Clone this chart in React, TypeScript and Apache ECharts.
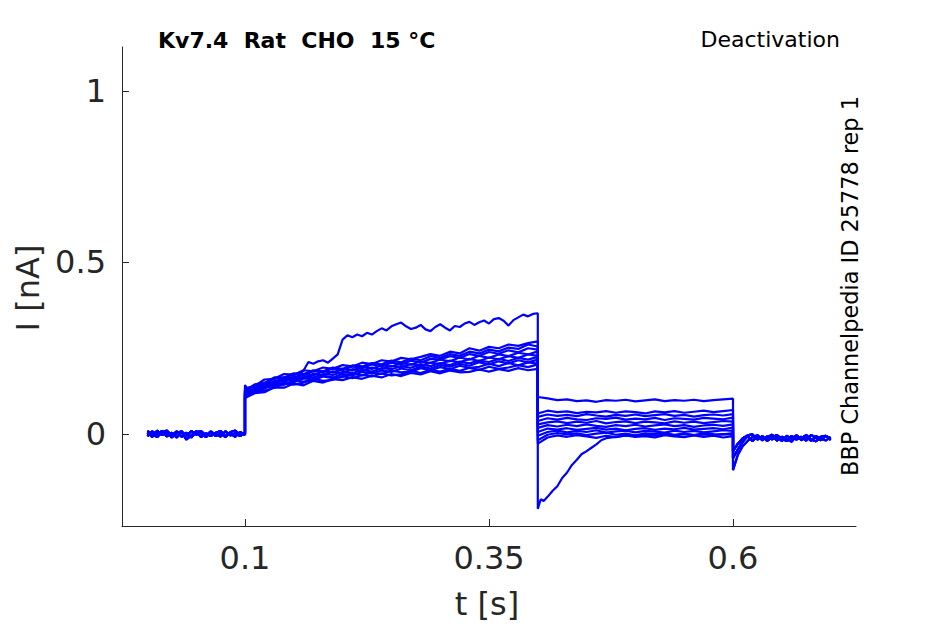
import React, { useEffect, useRef } from "react";
import * as echarts from "echarts";

// ---- time bases (s) ----
const T_PRE = [0, 0.005, 0.01, 0.015, 0.02, 0.025, 0.03, 0.035, 0.04, 0.045, 0.05, 0.055, 0.06, 0.065, 0.07, 0.075, 0.08, 0.085, 0.09, 0.095, 0.1];
const T_ACT = [0.1, 0.11, 0.12, 0.13, 0.14, 0.15, 0.16, 0.17, 0.18, 0.19, 0.2, 0.21, 0.22, 0.23, 0.24, 0.25, 0.26, 0.27, 0.28, 0.29, 0.3, 0.31, 0.32, 0.33, 0.34, 0.35, 0.36, 0.37, 0.38, 0.39, 0.4];
const T_ACT_FINE = [0.1, 0.105, 0.11, 0.115, 0.12, 0.125, 0.13, 0.135, 0.14, 0.145, 0.15, 0.155, 0.16, 0.165, 0.17, 0.175, 0.18, 0.185, 0.19, 0.195, 0.2, 0.205, 0.21, 0.215, 0.22, 0.225, 0.23, 0.235, 0.24, 0.245, 0.25, 0.255, 0.26, 0.265, 0.27, 0.275, 0.28, 0.285, 0.29, 0.295, 0.3, 0.305, 0.31, 0.315, 0.32, 0.325, 0.33, 0.335, 0.34, 0.345, 0.35, 0.355, 0.36, 0.365, 0.37, 0.375, 0.38, 0.385, 0.39, 0.395, 0.4];
const T_TAIL = [0.4, 0.41, 0.42, 0.43, 0.44, 0.45, 0.46, 0.47, 0.48, 0.49, 0.5, 0.51, 0.52, 0.53, 0.54, 0.55, 0.56, 0.57, 0.58, 0.59, 0.6];
const T_TAIL_UNDER = [0.4, 0.403, 0.406, 0.41, 0.415, 0.42, 0.425, 0.43, 0.435, 0.44, 0.445, 0.45, 0.455, 0.46, 0.465, 0.47, 0.48, 0.49, 0.5, 0.51, 0.52, 0.53, 0.54, 0.55, 0.56, 0.57, 0.58, 0.59, 0.6];
const T_POST = [0.6, 0.605, 0.61, 0.615, 0.62, 0.625, 0.63, 0.635, 0.64, 0.645, 0.65, 0.655, 0.66, 0.665, 0.67, 0.675, 0.68, 0.685, 0.69, 0.695, 0.7];

// ---- baseline before the step (nA) ----
const PRE_1 = [0.004, -0.008, 0.01, -0.003, 0.006, -0.01, 0.002, 0.008, -0.006, 0.009, -0.002, 0.004, -0.009, 0.006, 0.0, -0.007, 0.008, -0.004, 0.002, -0.006, 0.004];
const PRE_2 = [-0.006, 0.008, -0.002, 0.009, -0.007, 0.004, -0.01, 0.006, -0.016, -0.004, 0.008, -0.009, 0.002, -0.006, 0.004, 0.009, -0.006, 0.002, -0.008, 0.006, -0.002];
const PRE_3 = [0.009, 0.0, -0.009, 0.006, 0.01, -0.004, 0.008, -0.008, 0.004, -0.01, 0.006, 0.009, -0.004, 0.008, -0.006, 0.002, -0.009, 0.006, 0.01, -0.002, 0.0];

// ---- activating currents during the step (nA) ----
const ACT_TOP = [0.143, 0.118, 0.125, 0.122, 0.135, 0.138, 0.142, 0.146, 0.15, 0.158, 0.156, 0.17, 0.185, 0.21, 0.205, 0.212, 0.215, 0.208, 0.22, 0.232, 0.275, 0.288, 0.282, 0.29, 0.285, 0.295, 0.29, 0.3, 0.308, 0.302, 0.314, 0.32, 0.325, 0.314, 0.306, 0.31, 0.318, 0.305, 0.3, 0.312, 0.32, 0.31, 0.302, 0.315, 0.312, 0.322, 0.327, 0.318, 0.326, 0.331, 0.322, 0.335, 0.338, 0.33, 0.316, 0.332, 0.34, 0.348, 0.343, 0.35, 0.352];
const ACT_1 = [0.105, 0.119, 0.122, 0.136, 0.135, 0.147, 0.142, 0.155, 0.15, 0.16, 0.157, 0.166, 0.161, 0.17, 0.165, 0.175, 0.169, 0.178, 0.174, 0.183, 0.177, 0.185, 0.18, 0.181, 0.188, 0.182, 0.189, 0.184, 0.192, 0.186, 0.19];
const ACT_2 = [0.108, 0.124, 0.127, 0.135, 0.148, 0.144, 0.15, 0.161, 0.155, 0.158, 0.169, 0.163, 0.172, 0.168, 0.177, 0.171, 0.174, 0.184, 0.178, 0.187, 0.182, 0.19, 0.184, 0.193, 0.187, 0.196, 0.19, 0.194, 0.201, 0.195, 0.203];
const ACT_3 = [0.114, 0.12, 0.137, 0.139, 0.144, 0.156, 0.153, 0.157, 0.168, 0.163, 0.166, 0.177, 0.171, 0.18, 0.175, 0.185, 0.18, 0.182, 0.192, 0.186, 0.195, 0.189, 0.199, 0.193, 0.196, 0.205, 0.198, 0.207, 0.2, 0.209, 0.205];
const ACT_4 = [0.117, 0.13, 0.133, 0.147, 0.145, 0.151, 0.162, 0.159, 0.17, 0.165, 0.175, 0.171, 0.181, 0.176, 0.185, 0.181, 0.191, 0.186, 0.197, 0.191, 0.201, 0.196, 0.205, 0.199, 0.209, 0.203, 0.212, 0.206, 0.215, 0.209, 0.217];
const ACT_5 = [0.121, 0.127, 0.144, 0.145, 0.158, 0.156, 0.168, 0.165, 0.175, 0.172, 0.181, 0.177, 0.187, 0.182, 0.192, 0.189, 0.198, 0.193, 0.203, 0.198, 0.207, 0.201, 0.211, 0.206, 0.214, 0.21, 0.219, 0.213, 0.222, 0.217, 0.225];
const ACT_6 = [0.118, 0.136, 0.139, 0.155, 0.153, 0.168, 0.163, 0.176, 0.171, 0.183, 0.178, 0.189, 0.184, 0.194, 0.189, 0.199, 0.195, 0.204, 0.199, 0.208, 0.204, 0.214, 0.209, 0.219, 0.213, 0.223, 0.218, 0.227, 0.222, 0.232, 0.228];
const ACT_7 = [0.124, 0.131, 0.149, 0.15, 0.165, 0.162, 0.175, 0.171, 0.183, 0.179, 0.19, 0.185, 0.196, 0.19, 0.201, 0.196, 0.207, 0.202, 0.212, 0.207, 0.217, 0.212, 0.223, 0.217, 0.228, 0.222, 0.232, 0.227, 0.237, 0.232, 0.241];
const ACT_8 = [0.127, 0.142, 0.145, 0.162, 0.16, 0.174, 0.171, 0.183, 0.18, 0.191, 0.186, 0.197, 0.192, 0.203, 0.197, 0.208, 0.203, 0.214, 0.208, 0.219, 0.217, 0.227, 0.222, 0.233, 0.228, 0.239, 0.234, 0.244, 0.238, 0.25, 0.246];
const ACT_9 = [0.126, 0.145, 0.149, 0.165, 0.165, 0.177, 0.175, 0.186, 0.183, 0.194, 0.19, 0.2, 0.197, 0.207, 0.203, 0.214, 0.209, 0.22, 0.215, 0.227, 0.222, 0.233, 0.228, 0.24, 0.235, 0.246, 0.241, 0.252, 0.248, 0.261, 0.255];
const ACT_10 = [0.133, 0.14, 0.159, 0.161, 0.175, 0.173, 0.186, 0.183, 0.194, 0.19, 0.201, 0.197, 0.208, 0.204, 0.215, 0.211, 0.222, 0.218, 0.225, 0.233, 0.228, 0.24, 0.235, 0.25, 0.243, 0.254, 0.25, 0.261, 0.257, 0.265, 0.27];

// ---- tail currents after the step (nA) ----
const TAIL_TOP = [0.108, 0.104, 0.099, 0.101, 0.096, 0.098, 0.094, 0.099, 0.097, 0.1, 0.095, 0.098, 0.101, 0.096, 0.099, 0.097, 0.1, 0.096, 0.099, 0.101, 0.103];
const TAIL_10 = [0.06, 0.068, 0.064, 0.066, 0.061, 0.065, 0.063, 0.067, 0.062, 0.066, 0.064, 0.06, 0.066, 0.063, 0.067, 0.062, 0.065, 0.068, 0.064, 0.067, 0.07];
const TAIL_9 = [0.05, 0.057, 0.053, 0.056, 0.052, 0.058, 0.054, 0.051, 0.056, 0.053, 0.057, 0.052, 0.055, 0.058, 0.053, 0.056, 0.051, 0.055, 0.057, 0.054, 0.058];
const TAIL_8 = [0.038, 0.046, 0.042, 0.047, 0.043, 0.041, 0.046, 0.044, 0.048, 0.042, 0.045, 0.043, 0.047, 0.041, 0.046, 0.044, 0.042, 0.047, 0.045, 0.043, 0.048];
const TAIL_7 = [0.028, 0.034, 0.037, 0.032, 0.036, 0.033, 0.038, 0.031, 0.035, 0.037, 0.032, 0.036, 0.034, 0.031, 0.037, 0.033, 0.036, 0.032, 0.035, 0.038, 0.036];
const TAIL_6 = [0.018, 0.026, 0.022, 0.027, 0.023, 0.028, 0.024, 0.021, 0.026, 0.023, 0.027, 0.022, 0.025, 0.028, 0.023, 0.026, 0.021, 0.025, 0.027, 0.024, 0.028];
const TAIL_5 = [0.006, 0.016, 0.013, 0.017, 0.012, 0.015, 0.018, 0.013, 0.016, 0.011, 0.015, 0.017, 0.012, 0.016, 0.014, 0.018, 0.013, 0.015, 0.017, 0.014, 0.019];
const TAIL_4 = [-0.005, 0.006, 0.01, 0.005, 0.009, 0.006, 0.011, 0.004, 0.008, 0.01, 0.005, 0.009, 0.007, 0.004, 0.01, 0.006, 0.009, 0.005, 0.008, 0.011, 0.009];
const TAIL_3 = [-0.018, -0.002, 0.003, -0.001, 0.002, -0.003, 0.001, 0.004, -0.002, 0.001, -0.004, 0.002, 0.0, 0.003, -0.002, 0.001, -0.003, 0.002, 0.0, -0.001, 0.003];
const TAIL_2 = [-0.028, -0.01, -0.004, -0.008, -0.003, -0.007, -0.011, -0.005, -0.009, -0.004, -0.008, -0.006, -0.01, -0.003, -0.007, -0.009, -0.004, -0.008, -0.005, -0.01, -0.006];
const TAIL_UNDER = [-0.218, -0.19, -0.195, -0.183, -0.166, -0.152, -0.128, -0.112, -0.09, -0.075, -0.058, -0.05, -0.04, -0.03, -0.018, -0.012, -0.008, -0.004, -0.006, -0.002, -0.005, -0.001, -0.004, 0.0, -0.003, -0.001, -0.004, 0.0, -0.002];

// ---- after the tail (nA) ----
const POST_1 = [-0.105, -0.06, -0.035, -0.02, -0.008, -0.004, -0.019, -0.006, -0.016, -0.008, -0.021, -0.005, -0.014, -0.003, -0.018, -0.009, -0.02, -0.006, -0.013, -0.019, -0.008];
const POST_2 = [-0.07, -0.045, -0.022, -0.006, -0.02, -0.004, -0.017, -0.01, -0.002, -0.019, -0.008, -0.015, -0.022, -0.006, -0.012, -0.003, -0.016, -0.021, -0.008, -0.005, -0.017];
const POST_3 = [-0.05, -0.028, -0.012, -0.004, -0.001, -0.016, -0.006, -0.02, -0.01, -0.003, -0.014, -0.02, -0.005, -0.016, -0.008, -0.019, -0.003, -0.011, -0.018, -0.006, -0.013];

// ---- axes ----
const X_TICKS = [0.1, 0.35, 0.6];
const Y_TICKS = [0, 0.5, 1];

const TITLE = "Kv7.4  Rat  CHO  15 °C";
const PROTOCOL = "Deactivation";
const SOURCE = "BBP Channelpedia ID 25778 rep 1";
const X_NAME = "t [s]";
const Y_NAME = "I [nA]";

const TRACES = [
  { pre: PRE_1, actT: T_ACT_FINE, act: ACT_TOP, tailT: T_TAIL, tail: TAIL_TOP, post: POST_2 },
  { pre: PRE_2, actT: T_ACT, act: ACT_10, tailT: T_TAIL, tail: TAIL_10, post: POST_3 },
  { pre: PRE_3, actT: T_ACT, act: ACT_9, tailT: T_TAIL, tail: TAIL_9, post: POST_1 },
  { pre: PRE_1, actT: T_ACT, act: ACT_8, tailT: T_TAIL, tail: TAIL_8, post: POST_2 },
  { pre: PRE_2, actT: T_ACT, act: ACT_7, tailT: T_TAIL, tail: TAIL_7, post: POST_3 },
  { pre: PRE_3, actT: T_ACT, act: ACT_6, tailT: T_TAIL, tail: TAIL_6, post: POST_2 },
  { pre: PRE_1, actT: T_ACT, act: ACT_5, tailT: T_TAIL, tail: TAIL_5, post: POST_3 },
  { pre: PRE_2, actT: T_ACT, act: ACT_4, tailT: T_TAIL, tail: TAIL_4, post: POST_1 },
  { pre: PRE_3, actT: T_ACT, act: ACT_3, tailT: T_TAIL, tail: TAIL_3, post: POST_2 },
  { pre: PRE_1, actT: T_ACT, act: ACT_2, tailT: T_TAIL, tail: TAIL_2, post: POST_3 },
  { pre: PRE_2, actT: T_ACT, act: ACT_1, tailT: T_TAIL_UNDER, tail: TAIL_UNDER, post: POST_2 },
];

const zip = (t: number[], v: number[]) => t.map((x, i) => [x, v[i]]);

const FONT = "DejaVu Sans";
const AX = "#262626";

export default function App() {
  const ref = useRef<HTMLDivElement>(null);
  useEffect(() => {
    if (!ref.current) return;
    const chart = echarts.init(ref.current, null, { renderer: "svg" });
    const series = TRACES.map((tr) => ({
      type: "line",
      showSymbol: false,
      symbol: "none",
      data: [
        ...zip(T_PRE, tr.pre),
        ...zip(tr.actT, tr.act),
        ...zip(tr.tailT, tr.tail),
        ...zip(T_POST, tr.post),
      ],
      lineStyle: { color: "#0000ff", width: 2.2 },
      itemStyle: { color: "#0000ff" },
      emphasis: { disabled: true },
      silent: true,
    }));
    chart.setOption({
      animation: false,
      backgroundColor: "#ffffff",
      grid: { left: 122, right: 89, top: 47, bottom: 98 },
      xAxis: {
        type: "value",
        min: -0.026,
        max: 0.726,
        axisLine: { show: true, onZero: false, lineStyle: { color: AX, width: 1 } },
        axisTick: { show: true, inside: true, length: 7, customValues: X_TICKS, lineStyle: { color: AX } },
        axisLabel: {
          customValues: X_TICKS,
          formatter: (v: number) => String(v),
          fontSize: 32,
          fontFamily: FONT,
          color: AX,
          margin: 16,
        },
        splitLine: { show: false },
      },
      yAxis: {
        type: "value",
        min: -0.268,
        max: 1.128,
        axisLine: { show: true, onZero: false, lineStyle: { color: AX, width: 1 } },
        axisTick: { show: true, inside: true, length: 7, customValues: Y_TICKS, lineStyle: { color: AX } },
        axisLabel: {
          customValues: Y_TICKS,
          formatter: (v: number) => String(v),
          fontSize: 32,
          fontFamily: FONT,
          color: AX,
          margin: 16,
        },
        splitLine: { show: false },
      },
      graphic: [
        {
          type: "text",
          x: 158,
          y: 40,
          style: { text: TITLE, font: `bold 22px "${FONT}"`, fill: "#000", textAlign: "left", align: "left", textVerticalAlign: "middle", verticalAlign: "middle" },
        },
        {
          type: "text",
          x: 840,
          y: 39,
          style: { text: PROTOCOL, font: `22px "${FONT}"`, fill: "#000", textAlign: "right", align: "right", textVerticalAlign: "middle", verticalAlign: "middle" },
        },
        {
          type: "text",
          x: 850,
          y: 286,
          rotation: Math.PI / 2,
          style: { text: SOURCE, font: `22.4px "${FONT}"`, fill: "#000", textAlign: "center", align: "center", textVerticalAlign: "middle", verticalAlign: "middle" },
        },
        {
          type: "text",
          x: 28,
          y: 288,
          rotation: Math.PI / 2,
          style: { text: Y_NAME, font: `32px "${FONT}"`, fill: AX, textAlign: "center", align: "center", textVerticalAlign: "middle", verticalAlign: "middle" },
        },
        {
          type: "text",
          x: 487,
          y: 604,
          style: { text: X_NAME, font: `32px "${FONT}"`, fill: AX, textAlign: "center", align: "center", textVerticalAlign: "middle", verticalAlign: "middle" },
        },
      ],
      series,
    });
    return () => chart.dispose();
  }, []);
  return (
    <div
      ref={ref}
      style={{ position: "fixed", left: 0, top: 0, width: 945, height: 624, background: "#fff" }}
    />
  );
}
